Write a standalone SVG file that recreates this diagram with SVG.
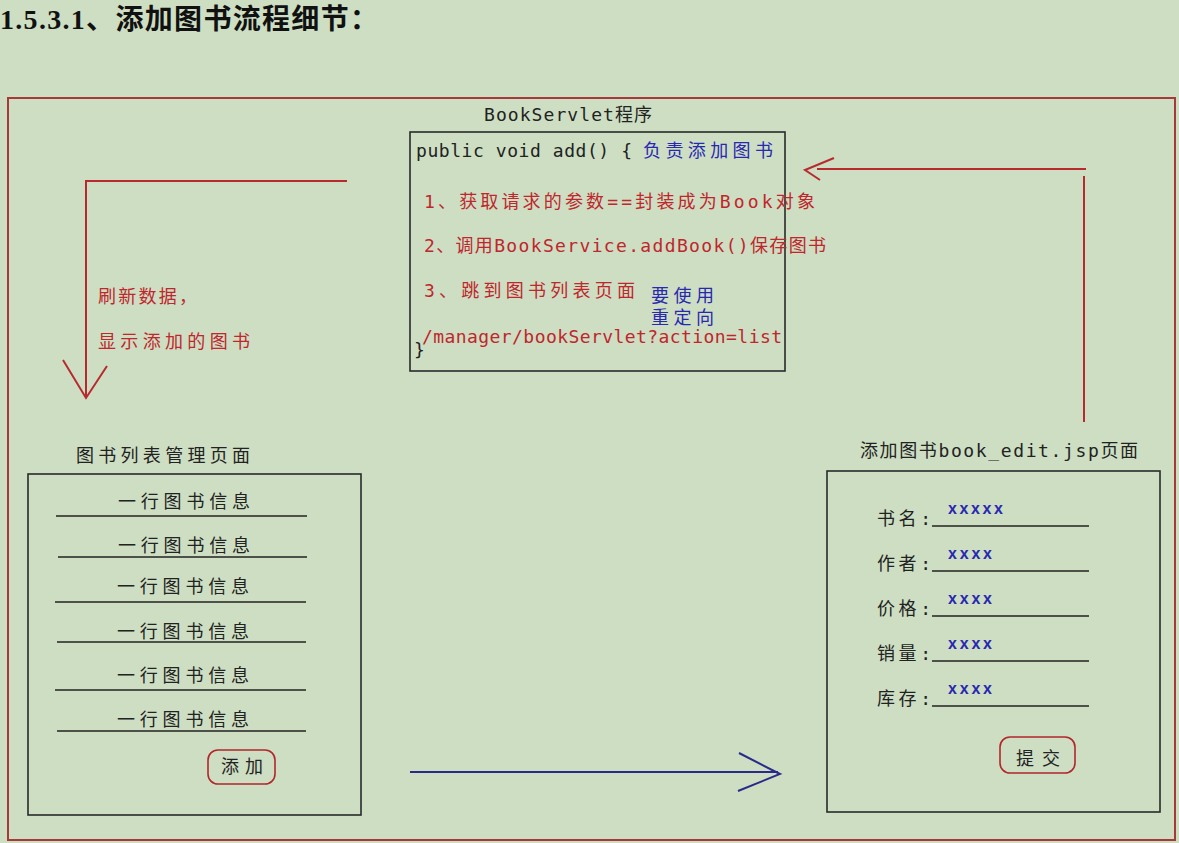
<svg xmlns="http://www.w3.org/2000/svg" width="1179" height="843" viewBox="0 0 1179 843">
<defs>
<style>
.bg{fill:#cddec3}
.frame{fill:none;stroke:#a8393a;stroke-width:2}
.box{fill:none;stroke:#2a2a2a;stroke-width:1.6}
.btn{fill:none;stroke:#b3262c;stroke-width:1.6}
.uline{stroke:#222;stroke-width:1.6}
.red{stroke:#b82a2e;stroke-width:2;fill:none}
.blue{stroke:#2a2a8a;stroke-width:2;fill:none}
.t{font-family:"DejaVu Sans Mono","Noto Sans CJK SC",monospace;font-size:18px}
.x{font-family:"Liberation Sans",sans-serif;font-size:16px;font-weight:bold;fill:#2828b0}
.k{fill:#222}
.r{fill:#c0262c}
.b{fill:#2828b0}
.h{font-family:"Liberation Serif","Noto Sans CJK SC",serif;font-size:28px;font-weight:bold;fill:#111}
</style>
</defs>
<rect class="bg" x="0" y="0" width="1179" height="843"/>
<text class="h" x="0" y="29" textLength="378">1.5.3.1、添加图书流程细节：</text>
<rect class="frame" x="8" y="98" width="1167" height="742"/>

<g id="servlet">
<text class="t k" x="484" y="121" textLength="168">BookServlet程序</text>
<rect class="box" x="410" y="132" width="375" height="239"/>
<text class="t k" x="416" y="157" textLength="216">public void add() {</text>
<text class="t b" x="643" y="157" textLength="130">负责添加图书</text>
<text class="t r" x="424" y="208" textLength="391">1、获取请求的参数==封装成为Book对象</text>
<text class="t r" x="424" y="252" textLength="402">2、调用BookService.addBook()保存图书</text>
<text class="t r" x="424" y="297" textLength="211">3、跳到图书列表页面</text>
<text class="t b" x="651" y="302" textLength="63">要使用</text>
<text class="t b" x="651" y="324" textLength="63">重定向</text>
<text class="t r" x="422" y="343" textLength="360">/manager/bookServlet?action=list</text>
<text class="t k" x="414" y="356">}</text>
</g>

<g id="list-page">
<text class="t k" x="76" y="462" textLength="174">图书列表管理页面</text>
<rect class="box" x="28" y="474" width="333" height="341"/>
<text class="t k" x="118" y="508" textLength="132">一行图书信息</text>
<line class="uline" x1="56" y1="516" x2="307" y2="516"/>
<text class="t k" x="118" y="552" textLength="132">一行图书信息</text>
<line class="uline" x1="58" y1="557" x2="307" y2="557"/>
<text class="t k" x="117" y="593" textLength="132">一行图书信息</text>
<line class="uline" x1="55" y1="602" x2="306" y2="602"/>
<text class="t k" x="117" y="638" textLength="132">一行图书信息</text>
<line class="uline" x1="57" y1="642" x2="306" y2="642"/>
<text class="t k" x="117" y="682" textLength="132">一行图书信息</text>
<line class="uline" x1="55" y1="690" x2="306" y2="690"/>
<text class="t k" x="117" y="726" textLength="132">一行图书信息</text>
<line class="uline" x1="57" y1="731" x2="306" y2="731"/>
<rect class="btn" x="208" y="750" width="67" height="34" rx="10"/>
<text class="t k" x="221" y="773" textLength="42">添加</text>
</g>

<g id="edit-page">
<text class="t k" x="860" y="457" textLength="278">添加图书book_edit.jsp页面</text>
<rect class="box" x="827" y="471" width="333" height="341"/>
<text class="t k" x="877" y="525" textLength="54">书名:</text>
<text class="x" x="948" y="514" textLength="55">xxxxx</text>
<line class="uline" x1="932" y1="526" x2="1089" y2="526"/>
<text class="t k" x="877" y="570" textLength="54">作者:</text>
<text class="x" x="948" y="559" textLength="44">xxxx</text>
<line class="uline" x1="932" y1="571" x2="1089" y2="571"/>
<text class="t k" x="877" y="615" textLength="54">价格:</text>
<text class="x" x="948" y="604" textLength="44">xxxx</text>
<line class="uline" x1="932" y1="616" x2="1089" y2="616"/>
<text class="t k" x="877" y="660" textLength="54">销量:</text>
<text class="x" x="948" y="649" textLength="44">xxxx</text>
<line class="uline" x1="932" y1="661" x2="1089" y2="661"/>
<text class="t k" x="877" y="705" textLength="54">库存:</text>
<text class="x" x="948" y="694" textLength="44">xxxx</text>
<line class="uline" x1="932" y1="706" x2="1089" y2="706"/>
<rect class="btn" x="1000" y="737" width="75" height="36" rx="10"/>
<text class="t k" x="1016" y="765" textLength="44">提交</text>
</g>

<g id="connectors">
<polyline class="red" points="347,181 86,181 86,398"/>
<polyline class="red" points="63,360 86,398 107,366"/>
<text class="t r" x="98" y="303" textLength="99">刷新数据，</text>
<text class="t r" x="98" y="348" textLength="152">显示添加的图书</text>
<polyline class="red" points="1084,422 1084,176"/>
<polyline class="red" points="1086,169 817,169"/>
<polyline class="red" points="834,158 805,170 820,180"/>
<line class="blue" x1="410" y1="772" x2="778" y2="772"/>
<polyline class="blue" points="739,753 780,774 738,791"/>
</g>
</svg>
